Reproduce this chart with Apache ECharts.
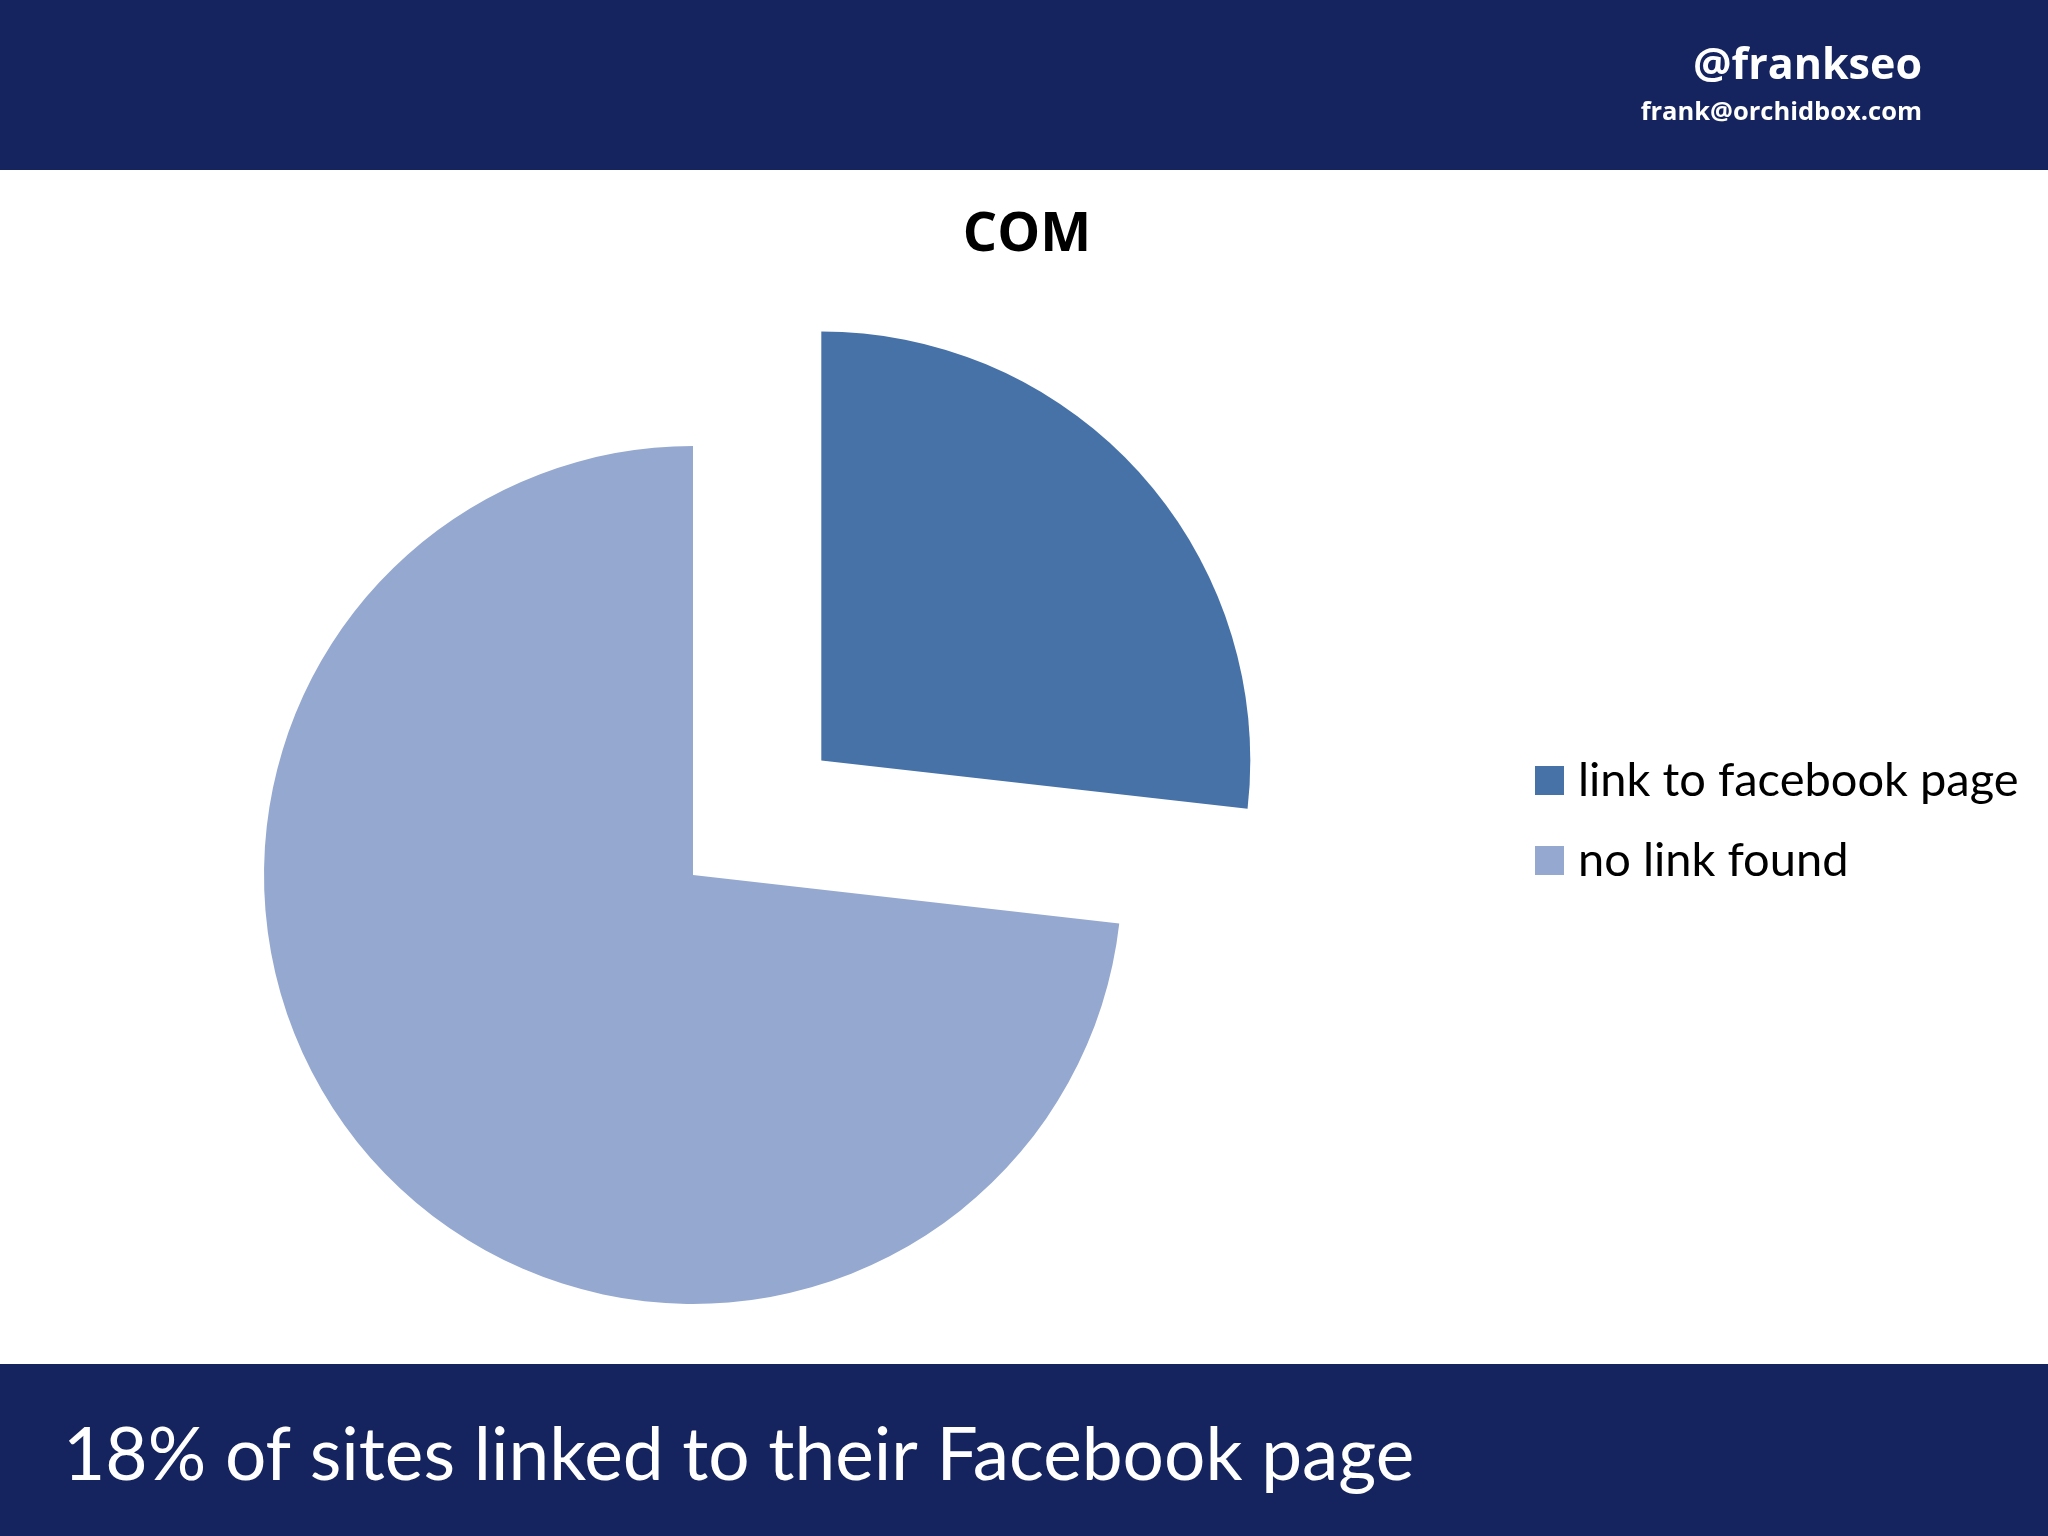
<!DOCTYPE html>
<html>
<head>
<meta charset="utf-8">
<script src="https://cdn.jsdelivr.net/npm/echarts@6/dist/echarts.min.js"></script>
<style>
html,body{margin:0;padding:0;background:#fff;}
#chart{width:2048px;height:1536px;}
</style>
</head>
<body>
<div id="chart"></div>
<script>
const categories = ['link to facebook page', 'no link found'];
const values = [26.8, 73.2];
const sliceColors = ['#4672A8', '#95A8D0'];
const chartTitle = 'COM';
const handle = '@frankseo';
const email = 'frank@orchidbox.com';
const caption = '18% of sites linked to their Facebook page';

const navy = '#15245E';
const font = '"Open Sans", "Noto Sans", sans-serif';
const font2 = 'Lato, "Open Sans", sans-serif';

const chart = echarts.init(document.getElementById('chart'), null, {renderer: 'canvas'});
chart.setOption({
  animation: false,
  backgroundColor: '#ffffff',
  title: {
    text: chartTitle,
    left: 1022,
    textAlign: 'center',
    top: 204,
    textStyle: {fontFamily: font, fontWeight: 'bold', fontSize: 54, color: '#000'}
  },
  legend: {
    orient: 'vertical',
    left: 1535,
    top: 757,
    padding: 0,
    icon: 'rect',
    itemWidth: 29,
    itemHeight: 29,
    itemGap: 33,
    selectedMode: false,
    data: categories,
    textStyle: {fontFamily: font2, fontSize: 47, lineHeight: 45, color: '#000', padding: [0, 0, 0, 9]}
  },
  graphic: [
    {type: 'rect', left: 0, top: 0, shape: {width: 2048, height: 170}, style: {fill: navy}, z: -1},
    {type: 'rect', left: 0, top: 1364, shape: {width: 2048, height: 172}, style: {fill: navy}, z: -1},
    {type: 'text', x: 1922, y: 45, style: {text: handle, textAlign: 'right', fill: '#fff', font: 'bold 43px ' + font}},
    {type: 'text', x: 1922, y: 100, style: {text: email, textAlign: 'right', fill: '#fff', font: 'bold 25.5px ' + font}},
    {type: 'text', x: 63, y: 1420, style: {text: caption, textAlign: 'left', fill: '#fff', font: '73px ' + font2}}
  ],
  series: [{
    type: 'pie',
    center: [693, 875],
    radius: 429,
    startAngle: 90,
    clockwise: true,
    selectedMode: 'single',
    selectedOffset: 172,
    label: {show: false},
    labelLine: {show: false},
    emphasis: {disabled: true},
    itemStyle: {borderWidth: 0},
    data: categories.map((c, i) => ({
      name: c,
      value: values[i],
      selected: i === 0,
      itemStyle: {color: sliceColors[i]}
    }))
  }]
});
</script>
</body>
</html>
